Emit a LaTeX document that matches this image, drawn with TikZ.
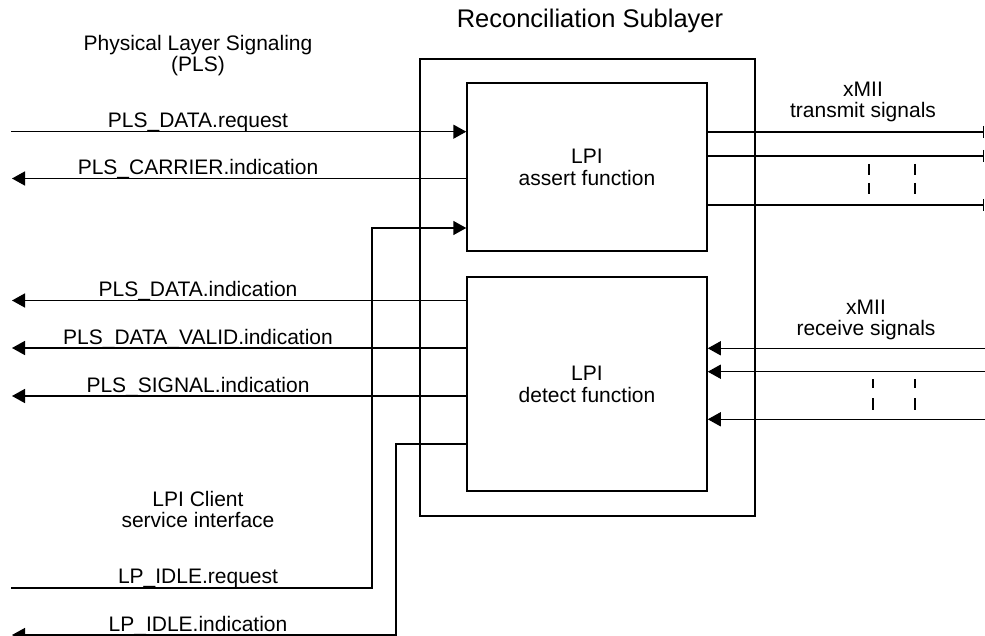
\documentclass[tikz,border=0pt]{standalone}
\usepackage{fontspec}
\setmainfont{Liberation Sans}
\usetikzlibrary{arrows.meta}
\begin{document}
\begin{tikzpicture}[x=1pt,y=-1pt,line width=1.5pt,
  every node/.style={font=\fontsize{21}{22}\selectfont, inner sep=0pt},
  box/.style={draw, rectangle, inner sep=0pt, align=center, line width=1.5pt},
  lbl/.style={anchor=base},
  arr/.style={-{Triangle[length=13pt,width=14pt]}},
  endbar/.style={-{Bar[width=12pt]}},
  tick/.style={line width=1.5pt}]
\useasboundingbox (0,0) rectangle (985,636);

% boxes
\node[box, minimum width=335pt, minimum height=457pt] (rs) at (587.5,287.5) {};
\node[box, minimum width=240pt, minimum height=168pt] (assert) at (587,167) {LPI\\assert function};
\node[box, minimum width=240pt, minimum height=214pt] (detect) at (587,384) {LPI\\detect function};

% headings
\node[lbl, font=\fontsize{25.5}{28}\selectfont] (title) at (590,28) {Reconciliation Sublayer};
\node[lbl] (pls1) at (198,51) {Physical Layer Signaling};
\node[lbl] (pls2) at (198,72) {(PLS)};
\node[lbl] (cli1) at (198,506) {LPI Client};
\node[lbl] (cli2) at (198,527) {service interface};
\node[lbl] (tx1) at (863,96.7) {xMII};
\node[lbl] (tx2) at (863,117.7) {transmit signals};
\node[lbl] (rx1) at (866,314) {xMII};
\node[lbl] (rx2) at (866,335) {receive signals};

% left side signals
\coordinate (a1) at (11,131.7);
\draw[arr] (a1) -- (assert.west |- a1);
\node[lbl] (t1) at (198,127.5) {PLS\_DATA.request};

\coordinate (a2) at (12,178.5);
\draw[arr] (assert.west |- a2) -- (a2);
\node[lbl] (t2) at (198,174.3) {PLS\_CARRIER.indication};

\coordinate (a3) at (12,300.5);
\draw[arr] (detect.west |- a3) -- (a3);
\node[lbl] (t3) at (198,296.5) {PLS\_DATA.indication};

\coordinate (a4) at (12,348);
\draw[arr] (detect.west |- a4) -- (a4);
\node[lbl] (t4) at (198,344) {PLS\_DATA\_VALID.indication};

\coordinate (a5) at (12,396);
\draw[arr] (detect.west |- a5) -- (a5);
\node[lbl] (t5) at (198,392) {PLS\_SIGNAL.indication};

% LP_IDLE.request
\coordinate (r0) at (11,588);
\coordinate (r1) at (372,588);
\coordinate (r2) at (372,228);
\draw[arr] (r0) -- (r1) -- (r2) -- (assert.west |- r2);
\node[lbl] (t6) at (198,583.5) {LP\_IDLE.request};

% LP_IDLE.indication
\coordinate (i1) at (396,444);
\coordinate (i2) at (396,635);
\coordinate (i3) at (12,635);
\draw[arr] (detect.west |- i1) -- (i1) -- (i2) -- (i3);
\node[lbl] (t7) at (198,631) {LP\_IDLE.indication};

% transmit signals
\coordinate (x1) at (984,132);
\coordinate (x2) at (984,156);
\coordinate (x3) at (984,205);
\draw[endbar] (assert.east |- x1) -- (x1);
\draw[endbar] (assert.east |- x2) -- (x2);
\draw[endbar] (assert.east |- x3) -- (x3);
\draw[tick] (869,164) -- (869,175) (869,183) -- (869,194);
\draw[tick] (915,164) -- (915,175) (915,183) -- (915,194);

% receive signals
\coordinate (y1) at (985,348.3);
\coordinate (y2) at (985,371.7);
\coordinate (y3) at (985,419.3);
\draw[arr] (y1) -- (detect.east |- y1);
\draw[arr] (y2) -- (detect.east |- y2);
\draw[arr] (y3) -- (detect.east |- y3);
\draw[tick] (873,379) -- (873,388) (873,398) -- (873,410);
\draw[tick] (915,379) -- (915,388) (915,398) -- (915,410);
\end{tikzpicture}
\end{document}
